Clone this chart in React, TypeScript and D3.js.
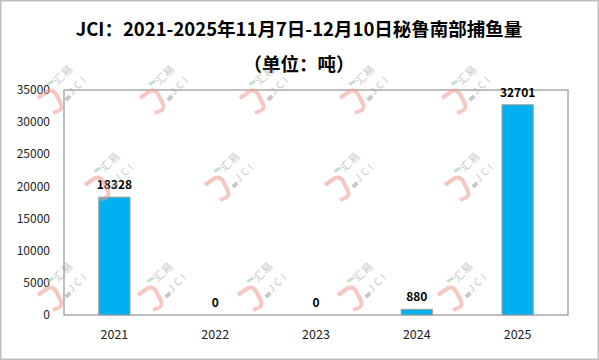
import React from 'react';
import * as d3 from 'd3';

// chart data
const years = ['2021', '2022', '2023', '2024', '2025'];
const catch_tons = [18328, 0, 0, 880, 32701];
const yTicks = [0, 5000, 10000, 15000, 20000, 25000, 30000, 35000];
const titleText = 'JCI：2021-2025年11月7日-12月10日秘鲁南部捕鱼量';
const subtitleText = '（单位：吨）';

// watermark anchor rows (汇易 logo centres)
const wmRow1 = [63, 165, 265, 365, 467];
const wmRow2 = [110, 230, 350, 470];
const wmRow3 = [63, 163, 263, 363, 463];

const W = 599;
const H = 360;
const margin = { top: 90, right: 31, bottom: 45, left: 64 };
const font = '"Noto Sans CJK SC", "Noto Sans", sans-serif';

const Watermark = ({ x, y }: { x: number; y: number }) => (
    <g transform={`translate(${x},${y})`} opacity={0.55}>
        <path
            d='M -25 23 L -15 16 Q -10 14 -7 19 L -2 29 Q 0 34 -5 36 L -10 38'
            fill='none'
            stroke='#f29a90'
            strokeWidth={4}
            strokeLinejoin='round'
        />
        <rect x={-16} y={6} width={7} height={3} fill='#8fce9b' transform='rotate(-30,-12,8)' />
        <rect x={2} y={21} width={6} height={4} fill='#9a9a9a' transform='rotate(-45,5,23)' />
        <text
            transform='rotate(-45)'
            textAnchor='middle'
            dy='0.35em'
            fontSize={11}
            fill='#9a9a9a'
            fontFamily={font}
        >
            汇易
        </text>
        <text
            transform='translate(15,10) rotate(-45)'
            textAnchor='middle'
            dy='0.35em'
            fontSize={10}
            letterSpacing={3}
            fill='#9a9a9a'
            fontFamily={font}
        >
            JCI
        </text>
    </g>
);

const App = () => {
    const x = d3
        .scaleBand()
        .domain(years)
        .range([margin.left, W - margin.right])
        .paddingInner(0.69)
        .paddingOuter(0.345);

    const y = d3
        .scaleLinear()
        .domain([0, 35000])
        .range([H - margin.bottom, margin.top]);

    const plotBottom = H - margin.bottom;

    return (
        <div style={{ position: 'fixed', left: 0, top: 0 }}>
            <svg width={W} height={H} style={{ display: 'block', background: '#fff' }}>
                <rect x={0.75} y={0.75} width={W - 1.5} height={H - 1.5} fill='#fff' stroke='#bfbfbf' strokeWidth={1.5} />

                <text x={299} y={30} dy='0.35em' textAnchor='middle' fontSize={18.5} fontWeight='bold' fontFamily={font} fill='#000'>
                    {titleText}
                </text>
                <text x={299} y={65} dy='0.35em' textAnchor='middle' fontSize={18.5} fontWeight='bold' fontFamily={font} fill='#000'>
                    {subtitleText}
                </text>

                <rect
                    x={margin.left}
                    y={margin.top}
                    width={W - margin.left - margin.right}
                    height={H - margin.top - margin.bottom}
                    fill='none'
                    stroke='#aaaaaa'
                    strokeWidth={1.5}
                />

                {yTicks.map((t) => (
                    <text key={t} x={50} y={y(t)} dy='0.35em' textAnchor='end' fontSize={12} fontFamily={font} fill='#222'>
                        {t}
                    </text>
                ))}

                {years.map((yr, i) => {
                    const v = catch_tons[i];
                    const bx = x(yr) as number;
                    const top = y(v);
                    return (
                        <g key={yr}>
                            {v > 0 && (
                                <rect
                                    x={bx}
                                    y={top}
                                    width={x.bandwidth()}
                                    height={plotBottom - top}
                                    fill='#00b0f0'
                                    stroke='#a0a0a0'
                                    strokeWidth={1}
                                />
                            )}
                            <text
                                x={bx + x.bandwidth() / 2}
                                y={top - 8}
                                textAnchor='middle'
                                fontSize={12}
                                fontWeight='bold'
                                fontFamily={font}
                                fill='#000'
                            >
                                {v}
                            </text>
                            <text
                                x={bx + x.bandwidth() / 2}
                                y={339}
                                textAnchor='middle'
                                fontSize={12.5}
                                fontFamily={font}
                                fill='#222'
                            >
                                {yr}
                            </text>
                        </g>
                    );
                })}

                {wmRow1.map((wx) => (
                    <Watermark key={'a' + wx} x={wx} y={75} />
                ))}
                {wmRow2.map((wx) => (
                    <Watermark key={'b' + wx} x={wx} y={162} />
                ))}
                {wmRow3.map((wx) => (
                    <Watermark key={'c' + wx} x={wx} y={272} />
                ))}
            </svg>
        </div>
    );
};

export default App;
